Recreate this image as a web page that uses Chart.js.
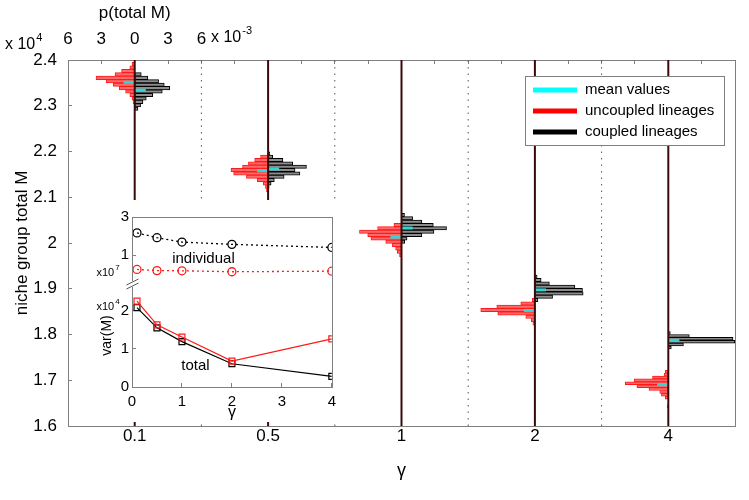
<!DOCTYPE html>
<html><head><meta charset="utf-8">
<script src="https://cdn.jsdelivr.net/npm/chart.js@4"></script>
<style>
html,body{margin:0;padding:0;background:#fff;}
#wrap{position:relative;width:749px;height:500px;overflow:hidden;}
#main{position:absolute;left:0;top:0;width:749px;height:500px;}
#inset{position:absolute;left:72px;top:200px;width:274px;height:222px;background:#fff;}
</style></head>
<body>
<div id="wrap"><div id="main"><canvas id="c1"></canvas></div><div id="inset"><canvas id="c2"></canvas></div></div>
<script>
// ---------------- data ----------------
const gammaLabels = ['0.1', '0.5', '1', '2', '4'];
const gammaValues = [0.1, 0.5, 1, 2, 4];

// histograms: bin centres of niche group total M, density p(total M) in units of 1e-3
const g01Bins = [23910, 23835, 23760, 23685, 23610, 23535, 23460, 23385, 23310, 23235, 23160, 23085, 23010, 22935];
const g01Uncoupled = [0.24, 0.44, 1.18, 1.77, 3.48, 2.57, 1.92, 1.39, 0.82, 0.44, 0.24, 0.15, 0, 0];
const g01Coupled   = [0, 0, 0, 0.59, 1.18, 2.15, 2.66, 3.16, 2.48, 1.62, 1.04, 0.74, 0.53, 0.29];

const g05Bins = [21959, 21886, 21813, 21740, 21667, 21594, 21521, 21448, 21375, 21302, 21229, 21156];
const g05Uncoupled = [0, 0.68, 1.21, 1.77, 2.30, 3.34, 3.10, 1.95, 0.97, 0.44, 0.24, 0.15];
const g05Coupled   = [0.15, 0.42, 1.33, 2.21, 3.45, 2.42, 2.86, 1.44, 0.56, 0.27, 0.09, 0];

const g1Bins = [20612, 20539, 20466, 20393, 20320, 20247, 20174, 20101, 20028, 19955, 19882, 19809, 19736];
const g1Uncoupled = [0, 0, 0, 0.68, 2.15, 3.78, 3.04, 2.75, 1.42, 0.82, 0.53, 0.38, 0.18];
const g1Coupled   = [0.27, 1.00, 1.83, 2.86, 4.05, 2.92, 1.83, 0.50, 0.29, 0, 0, 0, 0];

const g2Bins = [19263, 19190, 19117, 19044, 18971, 18898, 18825, 18752, 18679, 18606, 18533, 18460, 18387, 18314, 18241];
const g2Uncoupled = [0, 0, 0, 0, 0, 0, 0, 0.24, 1.27, 3.43, 4.87, 3.34, 0.82, 0.33, 0.18];
const g2Coupled   = [0.20, 0.56, 1.30, 3.60, 4.28, 4.34, 1.59, 0.27, 0, 0, 0, 0, 0, 0, 0];

const g4BinsCoupled = [18032, 17969, 17906, 17843, 17780, 17717];
const g4Coupled     = [0.18, 1.89, 5.82, 5.98, 1.36, 0.27];
const g4BinsUncoupled = [17186, 17123, 17060, 16997, 16934, 16871, 16808, 16745, 16682, 16619, 16430];
const g4Uncoupled     = [0.27, 0.38, 1.42, 3.07, 3.87, 2.83, 1.74, 0.77, 0.62, 0.27, 0.09];

const meanUncoupled = [23512, 21580, 20130, 18524, 16906];
const meanCoupled   = [23338, 21620, 20328, 18975, 17868];
const MEAN_MARK = 1.0;            // length of mean marker, 1e-3

const Y_MIN = 16000, Y_MAX = 24000, Y_STEP = 1000;
const P_PANEL = 12;               // p range (1e-3) of one gamma panel: 6 left + 6 right
const P_STEP = 3;

// inset: variance of M
const varIndividualCoupled   = [2.17, 1.92, 1.69, 1.57, 1.41];   // x1e7
const varIndividualUncoupled = [0.26, 0.20, 0.19, 0.14, 0.17];   // x1e7
const varTotalUncoupled      = [2.25, 1.63, 1.31, 0.68, 1.26];   // x1e4
const varTotalCoupled        = [2.08, 1.55, 1.19, 0.61, 0.28];   // x1e4

const legendLabels = ['mean values', 'uncoupled lineages', 'coupled lineages'];

// ---------------- style ----------------
const FONT = "'Liberation Sans', Arial, sans-serif";
const FRAME = '#7f7f7f';
const RED = '#ff1a1a', RED_FILL = '#ff6b6b';
const BLK = '#000000', BLK_FILL = '#8c8c8c';
const CYAN = '#33d4d4';
const CENTER = '#3a0a0a';
Chart.defaults.font.family = FONT;
Chart.defaults.color = '#000';

const histTable = [
  {uBins: g01Bins, u: g01Uncoupled, cBins: g01Bins, c: g01Coupled},
  {uBins: g05Bins, u: g05Uncoupled, cBins: g05Bins, c: g05Coupled},
  {uBins: g1Bins,  u: g1Uncoupled,  cBins: g1Bins,  c: g1Coupled},
  {uBins: g2Bins,  u: g2Uncoupled,  cBins: g2Bins,  c: g2Coupled},
  {uBins: g4BinsUncoupled, u: g4Uncoupled, cBins: g4BinsCoupled, c: g4Coupled},
];
const centers = gammaLabels.map((_, i) => P_PANEL * i + P_PANEL / 2);

const datasets = [];
centers.forEach(c => {
  datasets.push({type: 'line', data: [{x: c, y: Y_MIN}, {x: c, y: Y_MAX}], borderColor: CENTER, borderWidth: 2,
    pointRadius: 0, order: 0, xAxisID: 'x', yAxisID: 'y'});
});
for (let k = 1; k < gammaLabels.length; k++) {
  datasets.push({type: 'line', data: [{x: P_PANEL * k, y: Y_MIN}, {x: P_PANEL * k, y: Y_MAX}], borderColor: '#555',
    borderWidth: 1, borderDash: [1.5, 5], pointRadius: 0, order: 2, xAxisID: 'x', yAxisID: 'y'});
}
centers.forEach((c, i) => {
  datasets.push({type: 'line', data: [{x: c - MEAN_MARK, y: meanUncoupled[i]}, {x: c, y: meanUncoupled[i]}],
    borderColor: CYAN, borderWidth: 3, borderCapStyle: 'butt', pointRadius: 0, order: 1, xAxisID: 'x', yAxisID: 'y'});
  datasets.push({type: 'line', data: [{x: c, y: meanCoupled[i]}, {x: c + MEAN_MARK, y: meanCoupled[i]}],
    borderColor: CYAN, borderWidth: 3, borderCapStyle: 'butt', pointRadius: 0, order: 1, xAxisID: 'x', yAxisID: 'y'});
});
histTable.forEach((h, i) => {
  const c = centers[i];
  const common = {type: 'bar', indexAxis: 'y', xAxisID: 'x', yAxisID: 'yc' + i, grouped: false,
    barPercentage: 1, categoryPercentage: 1, borderWidth: 1, borderSkipped: false, order: 3};
  datasets.push(Object.assign({}, common, {borderColor: RED, backgroundColor: RED_FILL,
    data: h.u.map((p, k) => ({y: h.uBins[k], x: [c - p, c]})).filter(d => d.x[0] < d.x[1])}));
  datasets.push(Object.assign({}, common, {borderColor: BLK, backgroundColor: BLK_FILL,
    data: h.c.map((p, k) => ({y: h.cBins[k], x: [c, c + p]})).filter(d => d.x[0] < d.x[1])}));
});

function drawPow(ctx, base, exp, x, y, size) {
  ctx.font = size + 'px ' + FONT;
  ctx.textAlign = 'left'; ctx.textBaseline = 'middle';
  ctx.fillText(base, x, y);
  const w = ctx.measureText(base).width;
  ctx.font = Math.round(size * 0.7) + 'px ' + FONT;
  ctx.fillText(exp, x + w + 1, y - size * 0.45);
}

const mainDecor = {
  id: 'mainDecor',
  afterDraw(chart) {
    const {ctx, chartArea: a, scales} = chart;
    ctx.save();
    ctx.strokeStyle = FRAME; ctx.lineWidth = 1;
    ctx.beginPath(); ctx.moveTo(Math.round(a.right) + 0.5, a.top); ctx.lineTo(Math.round(a.right) + 0.5, a.bottom); ctx.stroke();
    ctx.fillStyle = '#000';
    drawPow(ctx, 'x 10', '4', 5, 45, 16);
    drawPow(ctx, 'x 10', '-3', 211, 38, 16);
    ctx.font = '17px ' + FONT; ctx.textAlign = 'center'; ctx.textBaseline = 'middle';
    ctx.fillText('p(total M)', scales.x.getPixelForValue(centers[0]), 13);
    // legend
    const lx = 525, ly = 76, lw = 199, lh = 69;
    ctx.fillStyle = '#fff'; ctx.fillRect(lx, ly, lw, lh);
    ctx.strokeStyle = FRAME; ctx.strokeRect(lx + 0.5, ly + 0.5, lw, lh);
    const cols = ['#00ffff', '#ff0000', '#000000'];
    legendLabels.forEach((t, i) => {
      const yy = ly + 14 + i * 21;
      ctx.strokeStyle = cols[i]; ctx.lineWidth = 5;
      ctx.beginPath(); ctx.moveTo(lx + 8, yy); ctx.lineTo(lx + 52, yy); ctx.stroke();
      ctx.fillStyle = '#000'; ctx.font = '15px ' + FONT; ctx.textAlign = 'left'; ctx.textBaseline = 'middle';
      ctx.fillText(t, lx + 60, yy);
    });
    ctx.restore();
  }
};

const scales = {
  x: {type: 'linear', position: 'bottom', min: 0, max: P_PANEL * gammaLabels.length, offset: false,
    afterBuildTicks: s => { s.ticks = centers.map(v => ({value: v})); },
    ticks: {autoSkip: false, maxRotation: 0, font: {size: 17}, padding: 0, callback: (v, i) => gammaLabels[i]},
    grid: {drawOnChartArea: false, drawTicks: false, offset: false},
    border: {color: FRAME},
    title: {display: true, text: 'γ', font: {size: 18}, padding: {top: 0, bottom: 18}},
    afterFit: s => { s.height = 74; }},
  x2: {type: 'linear', position: 'top', min: 0, max: P_PANEL * gammaLabels.length, offset: false,
    ticks: {stepSize: P_STEP, autoSkip: false, maxRotation: 0, font: {size: 17}, padding: 14,
      callback: v => (v <= P_PANEL + 1e-9 ? String(Math.round(Math.abs(v - P_PANEL / 2))) : '')},
    grid: {drawOnChartArea: false, drawTicks: true, tickLength: -4, tickColor: FRAME, offset: false},
    border: {color: FRAME},
    afterFit: s => { s.height = 60; }},
  y: {type: 'linear', position: 'left', min: Y_MIN, max: Y_MAX, offset: false,
    ticks: {stepSize: Y_STEP, font: {size: 17}, padding: 15, callback: v => String(+(v / 1e4).toFixed(2))},
    grid: {drawOnChartArea: false, drawTicks: true, tickLength: -4, tickColor: FRAME, offset: false},
    border: {color: FRAME},
    title: {display: true, text: 'niche group total M', font: {size: 17}, padding: {top: 12, bottom: 0}},
    afterFit: s => { s.width = 68; }}
};
for (let i = 0; i < gammaLabels.length; i++) {
  scales['yc' + i] = {type: 'linear', display: false, min: Y_MIN, max: Y_MAX, offset: false, grid: {offset: false}};
}

new Chart(document.getElementById('c1'), {
  type: 'bar',
  data: {datasets},
  options: {
    responsive: true, maintainAspectRatio: false, animation: false, events: [],
    layout: {padding: {left: 0, right: 4, top: 0, bottom: 0}},
    plugins: {legend: {display: false}, tooltip: {enabled: false}},
    scales
  },
  plugins: [mainDecor]
});

// ---------------- inset ----------------
const pts = arr => gammaValues.map((g, i) => ({x: g, y: arr[i]}));
const insetDecor = {
  id: 'insetDecor',
  afterDraw(chart) {
    const {ctx, chartArea: a, scales: s} = chart;
    ctx.save();
    ctx.strokeStyle = FRAME; ctx.lineWidth = 1;
    ctx.strokeRect(Math.round(a.left) + 0.5, Math.round(a.top) + 0.5, Math.round(a.right - a.left), Math.round(a.bottom - a.top));
    // axis break
    const yb = s.yT.bottom, xl = Math.round(a.left) + 0.5;
    ctx.fillStyle = '#fff'; ctx.fillRect(xl - 2, yb - 3, 4, 6);
    ctx.strokeStyle = '#555';
    ctx.beginPath();
    ctx.moveTo(xl - 6, yb + 1); ctx.lineTo(xl + 6, yb - 5);
    ctx.moveTo(xl - 6, yb + 5); ctx.lineTo(xl + 6, yb - 1);
    ctx.stroke();
    ctx.fillStyle = '#000';
    const pw = (b, e, cx, cy) => {
      ctx.font = '11px ' + FONT;
      const w = ctx.measureText(b).width;
      ctx.font = '8px ' + FONT;
      const we = ctx.measureText(e).width;
      drawPow(ctx, b, e, cx - (w + we + 1) / 2, cy, 11);
    };
    pw('x10', '7', a.left - 24, s.yT.getPixelForValue(0.1));
    pw('x10', '4', a.left - 24, s.yB.getPixelForValue(2.1));
    ctx.font = '15px ' + FONT; ctx.textAlign = 'center'; ctx.textBaseline = 'middle';
    ctx.fillText('individual', s.x.getPixelForValue(1.43), s.yT.getPixelForValue(0.83));
    ctx.fillText('total', s.x.getPixelForValue(1.27), s.yB.getPixelForValue(0.55));
    ctx.restore();
  }
};
const tickGrid = {drawOnChartArea: false, drawTicks: true, tickLength: -4, tickColor: FRAME};
new Chart(document.getElementById('c2'), {
  type: 'line',
  data: {datasets: [
    {data: pts(varIndividualCoupled), yAxisID: 'yT', borderColor: BLK, borderWidth: 1.3, borderDash: [2, 3],
      pointStyle: 'circle', pointRadius: 4, pointBorderWidth: 1.3, pointBorderColor: BLK, pointBackgroundColor: 'rgba(0,0,0,0)'},
    {data: pts(varIndividualUncoupled), yAxisID: 'yT', borderColor: RED, borderWidth: 1.3, borderDash: [2, 3],
      pointStyle: 'circle', pointRadius: 4, pointBorderWidth: 1.3, pointBorderColor: RED, pointBackgroundColor: 'rgba(0,0,0,0)'},
    {data: pts(varTotalUncoupled), yAxisID: 'yB', borderColor: RED, borderWidth: 1.2,
      pointStyle: 'rect', pointRadius: 4.2, pointBorderWidth: 1.2, pointBorderColor: RED, pointBackgroundColor: 'rgba(0,0,0,0)'},
    {data: pts(varTotalCoupled), yAxisID: 'yB', borderColor: BLK, borderWidth: 1.2,
      pointStyle: 'rect', pointRadius: 4.2, pointBorderWidth: 1.2, pointBorderColor: BLK, pointBackgroundColor: 'rgba(0,0,0,0)'}
  ]},
  options: {
    responsive: true, maintainAspectRatio: false, animation: false, events: [],
    layout: {padding: {top: 17, right: 10, left: 0, bottom: 0}},
    plugins: {legend: {display: false}, tooltip: {enabled: false}},
    scales: {
      x: {type: 'linear', min: 0, max: 4, ticks: {stepSize: 1, font: {size: 15}, padding: 10},
        grid: tickGrid, border: {color: FRAME},
        title: {display: true, text: 'γ', font: {size: 16}, padding: {top: 0, bottom: 0}},
        afterFit: s => { s.height = 35; }},
      yB: {type: 'linear', position: 'left', stack: 'v', stackWeight: 103, min: 0, max: 2.7,
        afterBuildTicks: s => { s.ticks = [0, 1, 2].map(v => ({value: v})); },
        ticks: {font: {size: 15}, padding: 7}, grid: tickGrid, border: {color: FRAME},
        title: {display: true, text: 'var(M)', font: {size: 14}, padding: {top: 27, bottom: 0}},
        afterFit: s => { s.width = 60; }},
      yT: {type: 'linear', position: 'left', stack: 'v', stackWeight: 67, min: -0.5, max: 3,
        afterBuildTicks: s => { s.ticks = [1, 2, 3].map(v => ({value: v})); },
        ticks: {font: {size: 15}, padding: 7}, grid: tickGrid, border: {color: FRAME},
        afterFit: s => { s.width = 60; }}
    }
  },
  plugins: [insetDecor]
});
</script>
</body></html>
